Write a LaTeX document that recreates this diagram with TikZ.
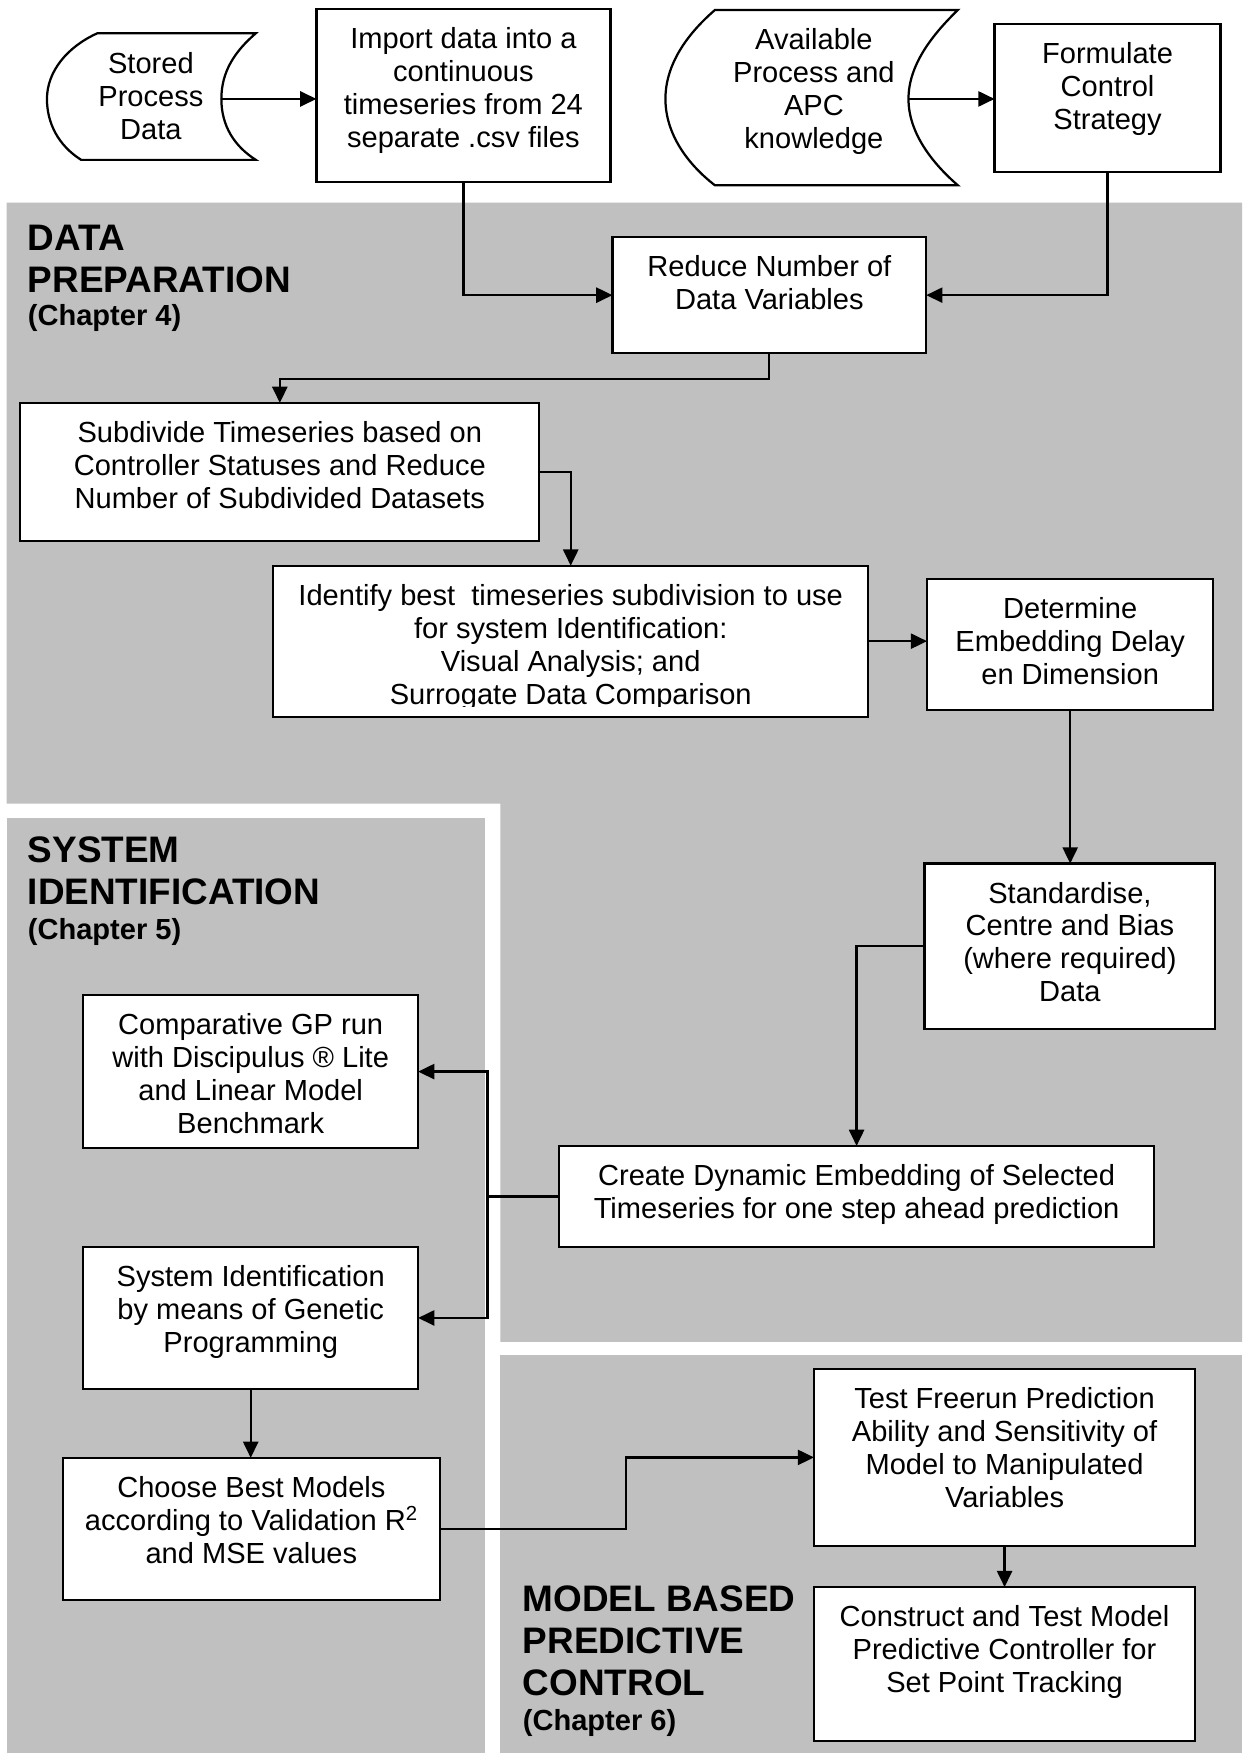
\documentclass[tikz,border=0pt]{standalone}
\usepackage{fontspec}
\setmainfont{Liberation Sans}
\usetikzlibrary{arrows.meta}

\definecolor{panelgray}{HTML}{C0C0C0}

% box text: top-aligned block of fixed size, first baseline at a fixed depth
\newcommand{\boxbody}[3]{\parbox[c][#2][t]{#1}{\centering\rule{0pt}{35.3pt}#3\par}}
\newcommand{\headfont}{\fontsize{33}{37.3}\selectfont\bfseries}
\newcommand{\chapfont}{\fontsize{26}{30}\selectfont\bfseries}

\begin{document}
\begin{tikzpicture}[x=1pt,y=-1pt,
  box/.style={draw=black, line width=2pt, fill=white, inner sep=0pt, outer sep=0pt,
              font=\fontsize{26}{29.5}\selectfont},
  plain/.style={inner sep=0pt, outer sep=0pt, font=\fontsize{26}{29.5}\selectfont},
  flow/.style={line width=2pt, -{Triangle[length=14.5pt,width=13.5pt]}},
  link/.style={line width=2pt},
  panel/.style={fill=panelgray, draw=none},
  heading/.style={anchor=base west, inner sep=0pt, font=\headfont},
  chapter/.style={anchor=base west, inner sep=0pt, font=\chapfont}]

\useasboundingbox (0,0) rectangle (1111,1568);
\fill[white] (0,0) rectangle (1111,1568);

% ---- section panels ----
\fill[panel] (6,181.3) -- (1111,181.3) -- (1111,1200.3) -- (447.5,1200.3)
             -- (447.5,718.8) -- (6,718.8) -- cycle;
\fill[panel] (6,731.5) rectangle (433.5,1568);
\fill[panel] (447,1212) rectangle (1111,1568);

% ---- stored data symbols ----
\draw[link, fill=white] (87,29.8) -- (228.8,29.8)
  .. controls (210,46) and (198,64) .. (198,88.5)
  .. controls (198,113) and (210,131) .. (228.8,143)
  -- (72.6,143)
  .. controls (52,130) and (42,110) .. (42,88.5)
  .. controls (42,64) and (60,42) .. (87,29.8) -- cycle;
\node[plain, anchor=base] (stored) at (135,66)
  {\parbox[t]{150pt}{\centering Stored\\Process\\Data}};
\coordinate (stored-out) at (198,88.5);

\draw[link, fill=white] (639.4,9) -- (856.7,9)
  .. controls (834,31) and (812.6,58) .. (812.6,88.5)
  .. controls (812.6,119) and (834,146) .. (856.7,165.7)
  -- (639.4,165.7)
  .. controls (614,146) and (595.2,119) .. (595.2,88.5)
  .. controls (595.2,58) and (614,31) .. (639.4,9) -- cycle;
\node[plain, anchor=base] (avail) at (728,44)
  {\parbox[t]{200pt}{\centering Available\\Process and\\APC\\knowledge}};
\coordinate (avail-out) at (812.6,88.5);

% ---- process boxes ----
\node[box] (imp) at (414.5,85.5)
  {\boxbody{263pt}{155pt}{Import data into a\\continuous\\timeseries from 24\\separate .csv files}};
\node[box] (form) at (990.65,87.65)
  {\boxbody{202.1pt}{131.9pt}{Formulate\\Control\\Strategy}};
\node[box] (reduce) at (688.15,264)
  {\boxbody{280.7pt}{103.4pt}{Reduce Number of\\Data Variables}};
\node[box] (subdiv) at (250.3,422)
  {\boxbody{464.2pt}{123.2pt}{Subdivide Timeseries based on\\Controller Statuses and Reduce\\Number of Subdivided Datasets}};

\node[box, minimum width=532pt, minimum height=135pt] (ident) at (510.5,573.5) {};
\begin{scope}
  \clip (244.5,506) rectangle (776.5,631.5);
  \node[plain] (ident-text) at (ident)
    {\boxbody{532pt}{135pt}{Identify best\ \ timeseries subdivision to use\\for system Identification:\\Visual Analysis; and\\Surrogate Data Comparison}};
\end{scope}

\node[box] (determ) at (957.25,576.65)
  {\boxbody{256.1pt}{116.9pt}{Determine\\Embedding Delay\\en Dimension}};
\node[box] (stand) at (957,846.4)
  {\boxbody{260pt}{148pt}{Standardise,\\Centre and Bias\\(where required)\\Data}};
\node[box] (create) at (766.2,1070.15)
  {\boxbody{532.4pt}{90.3pt}{Create Dynamic Embedding of Selected\\Timeseries for one step ahead prediction}};
\node[box] (comp) at (224.25,958.5)
  {\boxbody{299.5pt}{137pt}{Comparative GP run\\with Discipulus ® Lite\\and Linear Model\\Benchmark}};
\node[box] (sysid) at (224.25,1178.85)
  {\boxbody{299.5pt}{127.1pt}{System Identification\\by means of Genetic\\Programming}};
\node[box] (choose) at (224.85,1367.5)
  {\boxbody{337.1pt}{127pt}{Choose Best Models\\according to Validation R\textsuperscript{2}\\and MSE values}};
\node[box] (test) at (898.55,1303.6)
  {\boxbody{340.9pt}{158pt}{Test Freerun Prediction\\Ability and Sensitivity of\\Model to Manipulated\\Variables}};
\node[box] (construct) at (898.5,1488.5)
  {\boxbody{341pt}{137.8pt}{Construct and Test Model\\Predictive Controller for\\Set Point Tracking}};

% ---- section headings ----
\node[heading] (dp-title) at (24.7,224)
  {\parbox[t]{400pt}{\raggedright DATA\\PREPARATION}};
\node[chapter] (dp-chap) at (24.7,291.4) {(Chapter 4)};
\node[heading] (si-title) at (24.7,771.8)
  {\parbox[t]{400pt}{\raggedright SYSTEM\\IDENTIFICATION}};
\node[chapter] (si-chap) at (24.7,840) {(Chapter 5)};
\node[heading] (mp-title) at (467.5,1441.8)
  {\parbox[t]{400pt}{\raggedright MODEL BASED\\PREDICTIVE\\CONTROL}};
\node[chapter] (mp-chap) at (467.5,1547.8) {(Chapter 6)};

% ---- connectors ----
\draw[flow] (stored-out) -- (stored-out -| imp.west);
\draw[flow] (avail-out) -- (avail-out -| form.west);
\draw[flow] (imp.south) |- (reduce.west);
\draw[flow] (form.south) |- (reduce.east);
\draw[flow] (reduce.south) -- ++(0,23.2) -| (subdiv.north);
\draw[flow] (subdiv.east) -| (ident.north);
\draw[flow] (ident.east) -- (ident.east -| determ.west);
\draw[flow] (determ.south) -- (determ.south |- stand.north);
\draw[flow] (stand.west) -| (create.north);
\coordinate (split) at (436,1070.15);
\draw[link] (create.west) -- (split);
\draw[flow] (split) |- (comp.east);
\draw[flow] (split) |- (sysid.east);
\draw[flow] (sysid.south) -- (sysid.south |- choose.north);
\draw[flow] (choose.east) -- ++(166.6,0) |- (test.west);
\draw[flow] (test.south) -- (test.south |- construct.north);
\end{tikzpicture}
\end{document}
